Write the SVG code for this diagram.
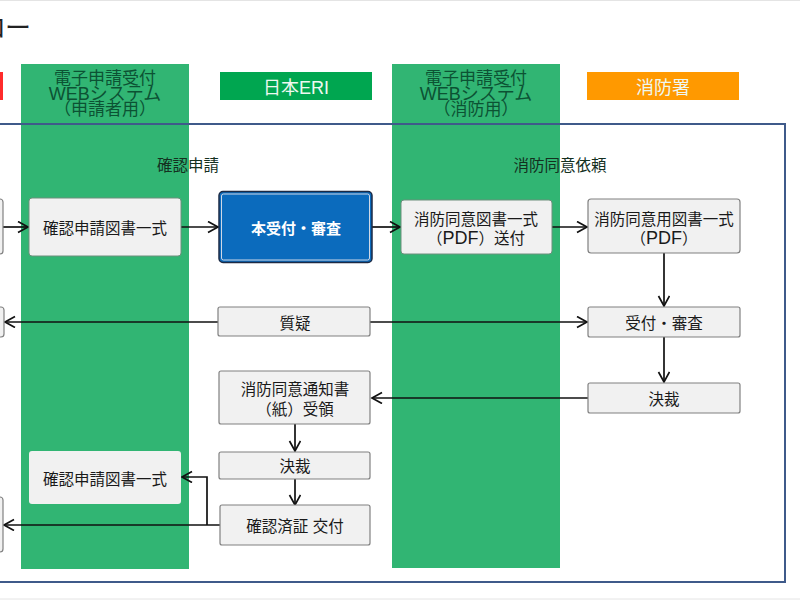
<svg xmlns="http://www.w3.org/2000/svg" width="800" height="600" viewBox="0 0 800 600">
<style>
text{font-family:"Liberation Sans","Noto Sans CJK JP",sans-serif;text-anchor:middle}
.box{fill:#f1f1f1;stroke:#808080;stroke-width:1.2}
.soft{fill:#f1f1f1;stroke:#6d8f7c;stroke-width:1}
.t{font-size:15.5px;fill:#1a1a1a}
.lane{fill:#31b573}
.lt{font-size:17px;fill:#0c5233}
.hd{font-size:18px;fill:#eef8f0}
.c{fill:none;stroke:#111;stroke-width:1.7}
.pdf{font-size:18px}
</style>
<defs>
<marker id="a" markerUnits="userSpaceOnUse" markerWidth="14" markerHeight="14" refX="11" refY="6" orient="auto">
<path d="M1 0.5L11 6L1 11.5" fill="none" stroke="#111" stroke-width="1.7"/>
</marker>
</defs>
<rect width="800" height="600" fill="#fff"/>
<path d="M0 0.5H800M0 599H800" stroke="#e4e4e4" fill="none"/>
<text x="30" y="37" style="text-anchor:end;font-size:26px;fill:#222;letter-spacing:-1px">ロー</text>
<g id="lane-applicant"><rect class="lane" x="21" y="64" width="168" height="505"/>
<text class="lt" x="105" y="84">電子申請受付</text><text class="lt" x="105" y="100" style="font-size:18px">WEBシステム</text><text class="lt" x="105" y="115">（申請者用）</text></g>
<g id="lane-fire"><rect class="lane" x="392" y="64" width="168" height="504"/>
<text class="lt" x="476" y="84">電子申請受付</text><text class="lt" x="476" y="100" style="font-size:18px">WEBシステム</text><text class="lt" x="476" y="115">（消防用）</text></g>
<rect id="frame" x="-10" y="124" width="795" height="458" fill="none" stroke="#3f5a8a" stroke-width="2"/>
<g id="header-red"><rect x="-10" y="72" width="13" height="28" fill="#ff2b2b"/></g>
<g id="header-eri"><rect x="220" y="72" width="152" height="28" fill="#00a650"/><text class="hd" x="296" y="94">日本ERI</text></g>
<g id="header-fire"><rect x="587" y="72" width="152" height="28" fill="#ff9900"/><text class="hd" x="663" y="94">消防署</text></g>
<text id="label-kakunin" class="t" x="188" y="171" style="fill:#14301f">確認申請</text>
<text id="label-shobo" class="t" x="560" y="171" style="fill:#14301f">消防同意依頼</text>
<g id="connectors">
<path class="c" d="M3 227H28" marker-end="url(#a)"/>
<path class="c" d="M181 227H218" marker-end="url(#a)"/>
<path class="c" d="M372 227H400" marker-end="url(#a)"/>
<path class="c" d="M552 227H587" marker-end="url(#a)"/>
<path class="c" d="M664 253V306" marker-end="url(#a)"/>
<path class="c" d="M664 337V382" marker-end="url(#a)"/>
<path class="c" d="M218 322H5" marker-end="url(#a)"/>
<path class="c" d="M370 322H587" marker-end="url(#a)"/>
<path class="c" d="M588 398H372" marker-end="url(#a)"/>
<path class="c" d="M295 424V451" marker-end="url(#a)"/>
<path class="c" d="M295 479V505" marker-end="url(#a)"/>
<path class="c" d="M220 525H4" marker-end="url(#a)"/>
<path class="c" d="M207 525V477H182" marker-end="url(#a)"/>
</g>
<g id="left-box-1"><rect class="box" x="-10" y="199" width="13" height="55" rx="3"/></g>
<g id="left-box-2"><rect class="box" x="-10" y="307" width="14" height="30" rx="3"/></g>
<g id="left-box-3"><rect class="box" x="-10" y="497" width="13" height="55" rx="3"/></g>
<g id="n1"><rect class="soft" x="29" y="198" width="152" height="58" rx="3"/><text class="t" x="105" y="234">確認申請図書一式</text></g>
<g id="n2"><rect x="219" y="191.5" width="153" height="71" rx="4" fill="#0b6bbd" stroke="#1c2a44" stroke-width="1.5"/><rect x="221.5" y="194" width="148" height="66" rx="2" fill="#0b6bbd" stroke="#cfd8e6" stroke-width="1"/><text class="t" x="296" y="234" style="fill:#fff;font-size:15px;font-weight:bold">本受付・審査</text></g>
<g id="n3"><rect class="soft" x="401" y="200" width="151" height="54" rx="3"/><text class="t" x="476" y="225">消防同意図書一式</text><text class="t" x="476" y="244">（<tspan class="pdf">PDF</tspan>）送付</text></g>
<g id="n4"><rect class="box" x="588" y="199" width="152" height="54" rx="3"/><text class="t" x="664" y="225">消防同意用図書一式</text><text class="t" x="664" y="244">（<tspan class="pdf">PDF</tspan>）</text></g>
<g id="n5"><rect class="box" x="218" y="307" width="152" height="29" rx="2"/><text class="t" x="295" y="329">質疑</text></g>
<g id="n6"><rect class="box" x="588" y="307" width="152" height="30" rx="2"/><text class="t" x="664" y="329">受付・審査</text></g>
<g id="n7"><rect class="box" x="588" y="383" width="152" height="30" rx="2"/><text class="t" x="664" y="405">決裁</text></g>
<g id="n8"><rect class="box" x="219" y="371" width="151" height="53" rx="2"/><text class="t" x="295" y="395">消防同意通知書</text><text class="t" x="295" y="415">（紙）受領</text></g>
<g id="n9"><rect class="box" x="219" y="452" width="151" height="27" rx="2"/><text class="t" x="295" y="472">決裁</text></g>
<g id="n10"><rect class="box" x="220" y="505" width="150" height="40" rx="2"/><text class="t" x="295" y="532">確認済証 交付</text></g>
<g id="n11"><rect x="29" y="451" width="152" height="53" rx="3" fill="#f1f1f1"/><text class="t" x="105" y="485">確認申請図書一式</text></g>
</svg>
